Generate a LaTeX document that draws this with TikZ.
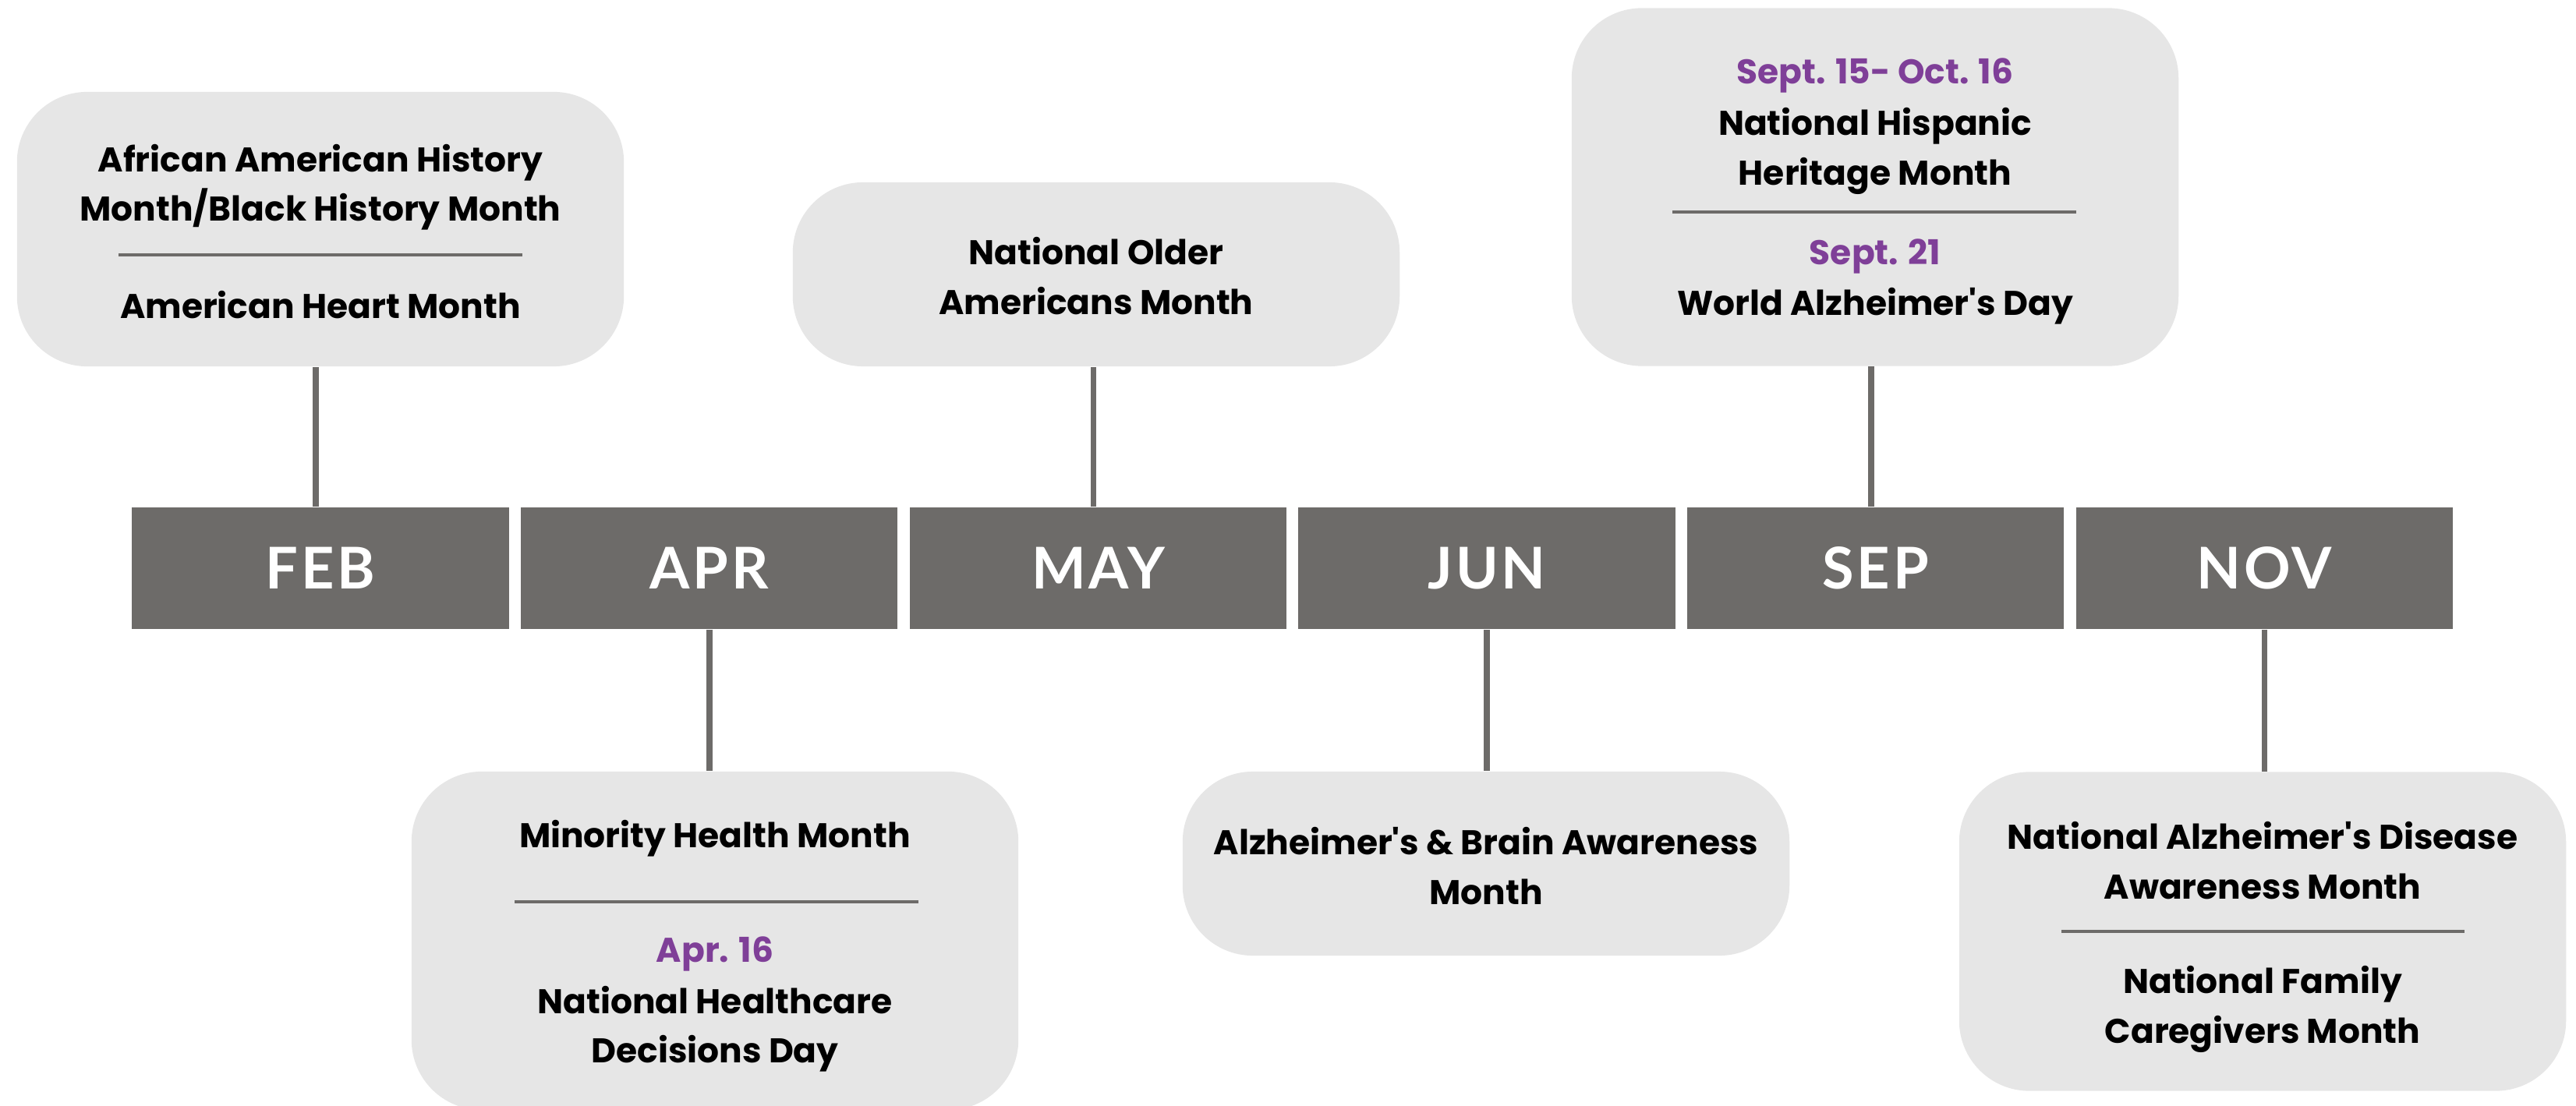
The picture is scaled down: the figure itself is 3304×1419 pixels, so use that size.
\documentclass[tikz,border=0pt]{standalone}
\usepackage{fontspec}
\setmainfont[Ligatures=TeXOff]{Poppins}
\newfontfamily\monthfont[LetterSpace=5]{Lato}
\usetikzlibrary{positioning, calc}
\definecolor{bargray}{HTML}{6D6B69}
\definecolor{boxgray}{HTML}{E6E6E6}
\definecolor{datepurple}{HTML}{7F3F98}
\tikzset{
    month/.style = {fill = bargray, text = white, minimum width = 4.83cm, minimum height = 1.56cm, inner sep = 0pt, font = \monthfont\bfseries\fontsize{21}{25}\selectfont},
    callout/.style = {fill = boxgray, rounded corners = 0.9cm, minimum width = 7.78cm, inner sep = 0pt},
    event/.style = {align = center, inner sep = 0pt, font = \bfseries\fontsize{12.5}{18}\selectfont},
    date/.style = {event, text = datepurple},
    stem/.style = {bargray, line width = 2.2pt},
    divider/.style = {bargray, line width = 0.9pt},
}

\begin{document}
\begin{tikzpicture}[x = 0.01cm, y = -0.01cm]

    \useasboundingbox (0,0) rectangle (3304,1419);

    % month bar
    \node[month] (feb) at (411,729) {FEB};
    \node[month, right = 0.14cm of feb] (apr) {APR};
    \node[month, right = 0.14cm of apr] (may) {MAY};
    \node[month, right = 0.14cm of may] (jun) {JUN};
    \node[month, right = 0.14cm of jun] (sep) {SEP};
    \node[month, right = 0.14cm of sep] (nov) {NOV};

    % boxes above
    \node[callout, minimum height = 3.52cm] (febbox) at (411,294) {};
    \node[callout, minimum height = 2.36cm] (maybox) at (1406,352) {};
    \node[callout, minimum height = 4.59cm] (sepbox) at (2405,240) {};

    % boxes below
    \node[callout, minimum height = 4.34cm] (aprbox) at (917,1207) {};
    \node[callout, minimum height = 2.36cm] (junbox) at (1906,1108) {};
    \node[callout, minimum height = 4.09cm] (novbox) at (2902,1195) {};

    \coordinate (febstem) at ($(feb.north)+(-6,0)$);
    \coordinate (maystem) at ($(may.north)+(-6,0)$);
    \coordinate (sepstem) at ($(sep.north)+(-6,0)$);
    \draw[stem] (febstem) -- (febstem |- febbox.south);
    \draw[stem] (maystem) -- (maystem |- maybox.south);
    \draw[stem] (sepstem) -- (sepstem |- sepbox.south);
    \draw[stem] (apr.south) -- (apr.south |- aprbox.north);
    \draw[stem] (jun.south) -- (jun.south |- junbox.north);
    \draw[stem] (nov.south) -- (nov.south |- novbox.north);

    % FEB
    \node[event] (febtop) at (411,240) {African American History\\Month/Black History Month};
    \draw[divider] (152,327) -- (670,327);
    \node[event] (febbot) at (411,391) {American Heart Month};

    % MAY
    \node[event] (maytxt) at (1406,354) {National Older\\Americans Month};

    % SEP
    \node[date] (sepdatea) at (2405,97) {Sept. 15- Oct. 16};
    \node[event] (septop) at (2405,194) {National Hispanic\\Heritage Month};
    \draw[divider] (2145,272) -- (2663,272);
    \node[date] (sepdateb) at (2405,329) {Sept. 21};
    \node[event] (sepbot) at (2405,393) {World Alzheimer's Day};

    % APR
    \node[event] (aprtop) at (917,1076) {Minority Health Month};
    \draw[divider] (660,1157) -- (1178,1157);
    \node[date] (aprdate) at (917,1224) {Apr. 16};
    \node[event] (aprbot) at (917,1320) {National Healthcare\\Decisions Day};

    % JUN
    \node[event] (juntxt) at (1906,1111) {Alzheimer's \& Brain Awareness\\Month};

    % NOV
    \node[event] (novtop) at (2902,1104) {National Alzheimer's Disease\\Awareness Month};
    \draw[divider] (2644,1195) -- (3161,1195);
    \node[event] (novbot) at (2902,1295) {National Family\\Caregivers Month};

\end{tikzpicture}
\end{document}
